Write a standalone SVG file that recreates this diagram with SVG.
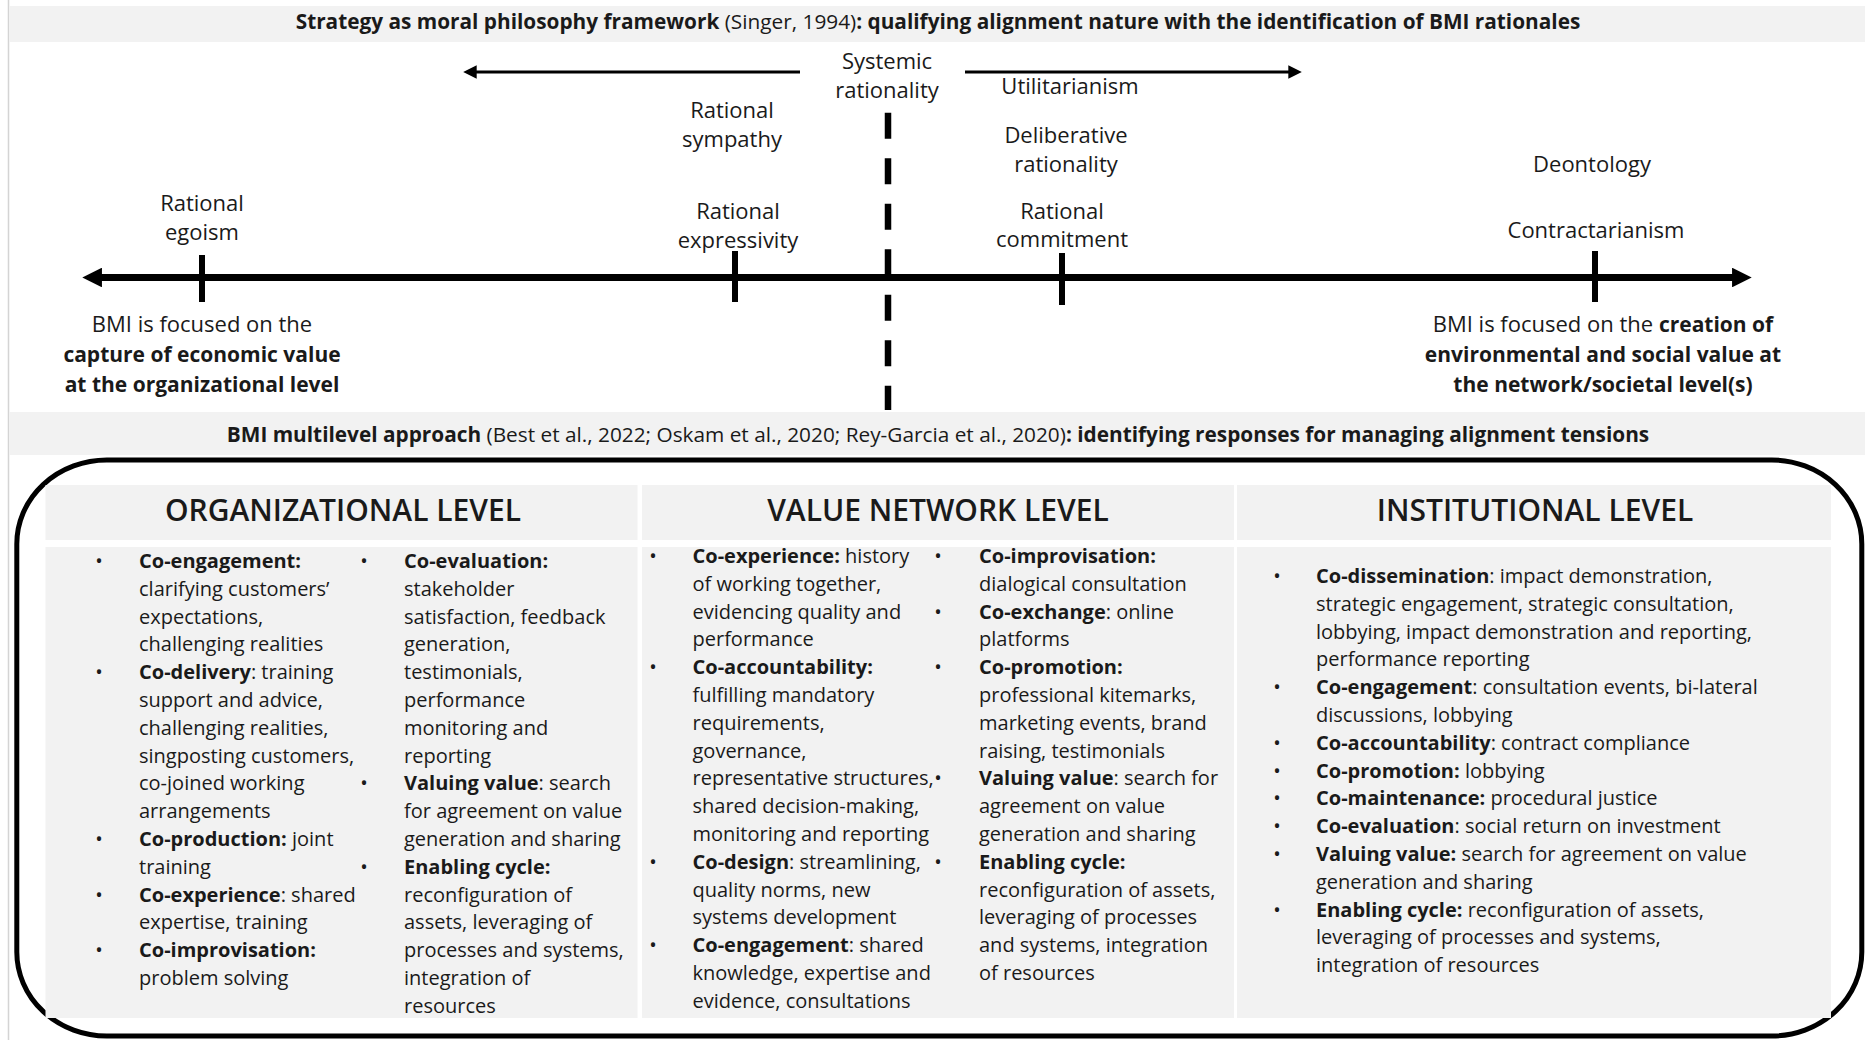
<svg xmlns="http://www.w3.org/2000/svg" width="1865" height="1040" viewBox="0 0 1865 1040">
<defs>
<style>
text{font-family:"Open Sans","Noto Sans","Liberation Sans",sans-serif;fill:#1a1a1a}
.lbl{font-size:22px;text-anchor:middle}
.lb{font-size:21px;text-anchor:middle;font-weight:700}
.title{font-size:20.8px;text-anchor:middle}
.hdr{font-size:30px;text-anchor:middle;font-weight:600}
.body{font-size:20px}
.bul{font-size:20px;text-anchor:middle}
.b{font-weight:700}
.bar{fill:#f2f2f2}
.cell{fill:#f2f2f2}
.axis{stroke:#000;fill:none}
</style>
<marker id="ahS" viewBox="0 0 10 10" refX="2" refY="5" markerWidth="4.5" markerHeight="4.5" orient="auto-start-reverse" markerUnits="strokeWidth">
<path d="M0,0 L10,5 L0,10 z" fill="#000"/>
</marker>
<marker id="ahL" viewBox="0 0 10 10" refX="2" refY="5" markerWidth="2.8" markerHeight="2.8" orient="auto-start-reverse" markerUnits="strokeWidth">
<path d="M0,0 L10,5 L0,10 z" fill="#000"/>
</marker>
</defs>
<rect width="1865" height="1040" fill="#fff"/>
<line x1="8.5" y1="0" x2="8.5" y2="1040" stroke="#d4d4d4" stroke-width="1.5"/>

<g id="title-top">
<rect class="bar" x="9" y="6" width="1856" height="36"/>
<text class="title" x="938" y="29"><tspan class="b">Strategy as moral philosophy framework</tspan> (Singer, 1994)<tspan class="b">: qualifying alignment nature with the identification of BMI rationales</tspan></text>
</g>

<g id="connectors">
<line class="axis" x1="800" y1="72" x2="474" y2="72" stroke-width="3" marker-end="url(#ahS)"/>
<line class="axis" x1="965" y1="72" x2="1291" y2="72" stroke-width="3" marker-end="url(#ahS)"/>
<line class="axis" x1="98" y1="277.5" x2="1736" y2="277.5" stroke-width="7" marker-start="url(#ahL)" marker-end="url(#ahL)"/>
<line class="axis" x1="888" y1="112.7" x2="888" y2="410" stroke-width="6.5" stroke-dasharray="26 19.5"/>
<line class="axis" x1="202" y1="255" x2="202" y2="302" stroke-width="6"/>
<line class="axis" x1="735" y1="251" x2="735" y2="302" stroke-width="6"/>
<line class="axis" x1="1062" y1="253" x2="1062" y2="305" stroke-width="6"/>
<line class="axis" x1="1595" y1="251" x2="1595" y2="302" stroke-width="6"/>
</g>

<g id="systemic-rationality"><text class="lbl" x="887" y="69">Systemic</text><text class="lbl" x="887" y="97.5">rationality</text></g>
<g id="rational-sympathy"><text class="lbl" x="732" y="118">Rational</text><text class="lbl" x="732" y="147">sympathy</text></g>
<g id="utilitarianism"><text class="lbl" x="1070" y="94">Utilitarianism</text></g>
<g id="deliberative-rationality"><text class="lbl" x="1066" y="143">Deliberative</text><text class="lbl" x="1066" y="172">rationality</text></g>
<g id="rational-egoism"><text class="lbl" x="202" y="211">Rational</text><text class="lbl" x="202" y="240">egoism</text></g>
<g id="rational-expressivity"><text class="lbl" x="738" y="219">Rational</text><text class="lbl" x="738" y="248">expressivity</text></g>
<g id="rational-commitment"><text class="lbl" x="1062" y="219">Rational</text><text class="lbl" x="1062" y="247">commitment</text></g>
<g id="deontology"><text class="lbl" x="1592" y="172">Deontology</text></g>
<g id="contractarianism"><text class="lbl" x="1596" y="238">Contractarianism</text></g>

<g id="economic-value">
<text class="lbl" x="202" y="332">BMI is focused on the</text>
<text class="lb" x="202" y="362">capture of economic value</text>
<text class="lb" x="202" y="392">at the organizational level</text>
</g>
<g id="social-value">
<text class="lbl" x="1603" y="332">BMI is focused on the <tspan class="b" style="font-size:21px">creation of</tspan></text>
<text class="lb" x="1603" y="362">environmental and social value at</text>
<text class="lb" x="1603" y="392">the network/societal level(s)</text>
</g>

<g id="title-multilevel">
<rect class="bar" x="9" y="412" width="1856" height="43"/>
<text class="title" x="938" y="442"><tspan class="b">BMI multilevel approach</tspan> (Best et al., 2022; Oskam et al., 2020; Rey-Garcia et al., 2020)<tspan class="b">: identifying responses for managing alignment tensions</tspan></text>
</g>

<g id="multilevel-frame">
<rect x="16.8" y="460" width="1845" height="576" rx="90" ry="84" fill="none" stroke="#000" stroke-width="5"/>
</g>

<g id="organizational-level">
<rect class="cell" x="45.5" y="485" width="592" height="55"/>
<rect class="cell" x="45.5" y="547" width="592" height="471"/>
<text class="hdr" x="343" y="521">ORGANIZATIONAL LEVEL</text>
<text class="bul" x="99" y="568">•</text>
<text class="bul" x="99" y="679.2">•</text>
<text class="bul" x="99" y="846">•</text>
<text class="bul" x="99" y="901.6">•</text>
<text class="bul" x="99" y="957.2">•</text>
<text class="body" x="139" y="568"><tspan class="b">Co-engagement:</tspan></text>
<text class="body" x="139" y="595.8">clarifying customers’</text>
<text class="body" x="139" y="623.6">expectations,</text>
<text class="body" x="139" y="651.4">challenging realities</text>
<text class="body" x="139" y="679.2"><tspan class="b">Co-delivery</tspan>: training</text>
<text class="body" x="139" y="707">support and advice,</text>
<text class="body" x="139" y="734.8">challenging realities,</text>
<text class="body" x="139" y="762.6">singposting customers,</text>
<text class="body" x="139" y="790.4">co-joined working</text>
<text class="body" x="139" y="818.2">arrangements</text>
<text class="body" x="139" y="846"><tspan class="b">Co-production:</tspan> joint</text>
<text class="body" x="139" y="873.8">training</text>
<text class="body" x="139" y="901.6"><tspan class="b">Co-experience</tspan>: shared</text>
<text class="body" x="139" y="929.4">expertise, training</text>
<text class="body" x="139" y="957.2"><tspan class="b">Co-improvisation:</tspan></text>
<text class="body" x="139" y="985">problem solving</text>
<text class="bul" x="364" y="568">•</text>
<text class="bul" x="364" y="790.4">•</text>
<text class="bul" x="364" y="873.8">•</text>
<text class="body" x="404" y="568"><tspan class="b">Co-evaluation:</tspan></text>
<text class="body" x="404" y="595.8">stakeholder</text>
<text class="body" x="404" y="623.6">satisfaction, feedback</text>
<text class="body" x="404" y="651.4">generation,</text>
<text class="body" x="404" y="679.2">testimonials,</text>
<text class="body" x="404" y="707">performance</text>
<text class="body" x="404" y="734.8">monitoring and</text>
<text class="body" x="404" y="762.6">reporting</text>
<text class="body" x="404" y="790.4"><tspan class="b">Valuing value</tspan>: search</text>
<text class="body" x="404" y="818.2">for agreement on value</text>
<text class="body" x="404" y="846">generation and sharing</text>
<text class="body" x="404" y="873.8"><tspan class="b">Enabling cycle:</tspan></text>
<text class="body" x="404" y="901.6">reconfiguration of</text>
<text class="body" x="404" y="929.4">assets, leveraging of</text>
<text class="body" x="404" y="957.2">processes and systems,</text>
<text class="body" x="404" y="985">integration of</text>
<text class="body" x="404" y="1012.8">resources</text>
</g>

<g id="value-network-level">
<rect class="cell" x="642" y="485" width="592" height="55"/>
<rect class="cell" x="642" y="547" width="592" height="471"/>
<text class="hdr" x="938" y="521">VALUE NETWORK LEVEL</text>
<text class="bul" x="653" y="563">•</text>
<text class="bul" x="653" y="674.2">•</text>
<text class="bul" x="653" y="868.8">•</text>
<text class="bul" x="653" y="952.2">•</text>
<text class="body" x="692.5" y="563"><tspan class="b">Co-experience:</tspan>  history</text>
<text class="body" x="692.5" y="590.8">of working together,</text>
<text class="body" x="692.5" y="618.6">evidencing quality and</text>
<text class="body" x="692.5" y="646.4">performance</text>
<text class="body" x="692.5" y="674.2"><tspan class="b">Co-accountability:</tspan></text>
<text class="body" x="692.5" y="702">fulfilling mandatory</text>
<text class="body" x="692.5" y="729.8">requirements,</text>
<text class="body" x="692.5" y="757.6">governance,</text>
<text class="body" x="692.5" y="785.4">representative structures,</text>
<text class="body" x="692.5" y="813.2">shared decision-making,</text>
<text class="body" x="692.5" y="841">monitoring and reporting</text>
<text class="body" x="692.5" y="868.8"><tspan class="b">Co-design</tspan>: streamlining,</text>
<text class="body" x="692.5" y="896.6">quality norms, new</text>
<text class="body" x="692.5" y="924.4">systems development</text>
<text class="body" x="692.5" y="952.2"><tspan class="b">Co-engagement</tspan>: shared</text>
<text class="body" x="692.5" y="980">knowledge, expertise and</text>
<text class="body" x="692.5" y="1007.8">evidence, consultations</text>
<text class="bul" x="938" y="563">•</text>
<text class="bul" x="938" y="618.6">•</text>
<text class="bul" x="938" y="674.2">•</text>
<text class="bul" x="938" y="785.4">•</text>
<text class="bul" x="938" y="868.8">•</text>
<text class="body" x="979" y="563"><tspan class="b">Co-improvisation:</tspan></text>
<text class="body" x="979" y="590.8">dialogical consultation</text>
<text class="body" x="979" y="618.6"><tspan class="b">Co-exchange</tspan>: online</text>
<text class="body" x="979" y="646.4">platforms</text>
<text class="body" x="979" y="674.2"><tspan class="b">Co-promotion:</tspan></text>
<text class="body" x="979" y="702">professional kitemarks,</text>
<text class="body" x="979" y="729.8">marketing events, brand</text>
<text class="body" x="979" y="757.6">raising, testimonials</text>
<text class="body" x="979" y="785.4"><tspan class="b">Valuing value</tspan>: search for</text>
<text class="body" x="979" y="813.2">agreement on value</text>
<text class="body" x="979" y="841">generation and sharing</text>
<text class="body" x="979" y="868.8"><tspan class="b">Enabling cycle:</tspan></text>
<text class="body" x="979" y="896.6">reconfiguration of assets,</text>
<text class="body" x="979" y="924.4">leveraging of processes</text>
<text class="body" x="979" y="952.2">and systems, integration</text>
<text class="body" x="979" y="980">of resources</text>
</g>

<g id="institutional-level">
<rect class="cell" x="1237" y="485" width="594" height="55"/>
<rect class="cell" x="1237" y="547" width="594" height="471"/>
<text class="hdr" x="1535" y="521">INSTITUTIONAL LEVEL</text>
<text class="bul" x="1277" y="583">•</text>
<text class="bul" x="1277" y="694.2">•</text>
<text class="bul" x="1277" y="749.8">•</text>
<text class="bul" x="1277" y="777.6">•</text>
<text class="bul" x="1277" y="805.4">•</text>
<text class="bul" x="1277" y="833.2">•</text>
<text class="bul" x="1277" y="861">•</text>
<text class="bul" x="1277" y="916.6">•</text>
<text class="body" x="1316" y="583"><tspan class="b">Co-dissemination</tspan>: impact demonstration,</text>
<text class="body" x="1316" y="610.8">strategic engagement, strategic consultation,</text>
<text class="body" x="1316" y="638.6">lobbying, impact demonstration and reporting,</text>
<text class="body" x="1316" y="666.4">performance reporting</text>
<text class="body" x="1316" y="694.2"><tspan class="b">Co-engagement</tspan>: consultation events, bi-lateral</text>
<text class="body" x="1316" y="722">discussions, lobbying</text>
<text class="body" x="1316" y="749.8"><tspan class="b">Co-accountability</tspan>: contract compliance</text>
<text class="body" x="1316" y="777.6"><tspan class="b">Co-promotion:</tspan> lobbying</text>
<text class="body" x="1316" y="805.4"><tspan class="b">Co-maintenance:</tspan> procedural justice</text>
<text class="body" x="1316" y="833.2"><tspan class="b">Co-evaluation</tspan>: social return on investment</text>
<text class="body" x="1316" y="861"><tspan class="b">Valuing value:</tspan> search for agreement on value</text>
<text class="body" x="1316" y="888.8">generation and sharing</text>
<text class="body" x="1316" y="916.6"><tspan class="b">Enabling cycle:</tspan> reconfiguration of assets,</text>
<text class="body" x="1316" y="944.4">leveraging of processes and systems,</text>
<text class="body" x="1316" y="972.2">integration of resources</text>
</g>
</svg>
